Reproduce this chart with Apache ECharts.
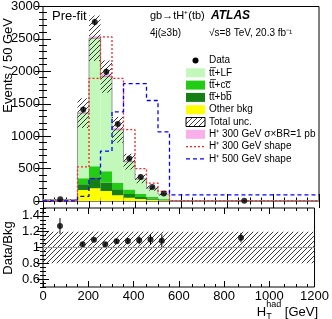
<!DOCTYPE html>
<html><head><meta charset="utf-8">
<script src="https://cdn.jsdelivr.net/npm/echarts@6/dist/echarts.min.js"></script>
<style>html,body{margin:0;padding:0;background:#fff;}#c{width:332px;height:319px;}</style>
</head><body><div id="c"></div>
<script>
// ---- data (Events / 50 GeV) ----
const binEdges = [0, 150, 200, 250, 300, 350, 400, 450, 500, 550, 1200];
const dataVals = [28, 1410, 2760, 1995, 1186, 655, 371, 217, 114, 4.5];
const otherBkg = [3, 170, 195, 155, 88, 52, 30, 18, 10, 0.8];
const ttbb = [2, 90, 170, 130, 92, 56, 32, 18, 10, 0.6];
const ttcc = [3, 90, 171, 175, 100, 68, 46, 26, 15, 0.8];
const ttLF = [14, 1005, 1974, 1458, 818, 430, 232, 135, 70, 1.8];
const hplus300 = [0, 15, 30, 40, 30, 15, 8, 4, 2, 0];
const totalUncRel = [0.2, 0.17, 0.14, 0.13, 0.18, 0.2, 0.2, 0.2, 0.2, 0.2];
const hplus300Shape = [0, 525, 1890, 2530, 1890, 1100, 500, 275, 150, 3];
const hplus500Shape = [0, 72, 345, 770, 1376, 1810, 1810, 1550, 1067, 95];
const ratioErr = [0.10, 0.03, 0.02, 0.025, 0.03, 0.04, 0.05, 0.07, 0.08, 0.06];
const ratioUncUp = [1.2, 1.2, 1.2, 1.2, 1.2, 1.2, 1.2, 1.2, 1.2, 1.2];
const ratioUncDn = [0.8, 0.8, 0.8, 0.8, 0.8, 0.8, 0.8, 0.8, 0.8, 0.8];
const xTickLabels = [0, 200, 400, 600, 800, 1000, 1200];
const yTickLabels = [0, 500, 1000, 1500, 2000, 2500, 3000];
const ratioTickLabels = [0.6, 0.8, 1, 1.2, 1.4];

const FONT = '"Liberation Sans", Arial, sans-serif';
const chart = echarts.init(document.getElementById('c'), null, {renderer: 'canvas', width: 332, height: 319});

function makeHatch(sp, color, lw) {
  const c = document.createElement('canvas'); c.width = sp; c.height = sp;
  const g = c.getContext('2d'); g.strokeStyle = color; g.lineWidth = lw;
  g.beginPath();
  g.moveTo(0, sp); g.lineTo(sp, 0);
  g.moveTo(-1, 1); g.lineTo(1, -1);
  g.moveTo(sp - 1, sp + 1); g.lineTo(sp + 1, sp - 1);
  g.stroke();
  return c;
}
const hatchImg = makeHatch(5, '#222', 0.9);
const hatchFill = {image: hatchImg, repeat: 'repeat'};

const nb = binEdges.length - 1;
const cum1 = [], cum2 = [], cum3 = [], bkg = [], cumSig = [], ratio = [];
for (let i = 0; i < nb; i++) {
  cum1.push(otherBkg[i]);
  cum2.push(cum1[i] + ttbb[i]);
  cum3.push(cum2[i] + ttcc[i]);
  bkg.push(cum3[i] + ttLF[i]);
  cumSig.push(bkg[i] + hplus300[i]);
  ratio.push(dataVals[i] / bkg[i]);
}
const centers = binEdges.slice(0, nb).map((e, i) => (e + binEdges[i + 1]) / 2);

function rectData(lo, hi) {
  return lo.map((v, i) => [binEdges[i], binEdges[i + 1], v, hi[i]]);
}
function rectSeries(lo, hi, fill, xi, yi, z) {
  return {
    type: 'custom', xAxisIndex: xi, yAxisIndex: yi, z: z, silent: true, clip: true,
    data: rectData(lo, hi),
    encode: {x: [0, 1], y: [2, 3]},
    renderItem: function (params, api) {
      const a = api.coord([api.value(0), api.value(2)]);
      const b = api.coord([api.value(1), api.value(3)]);
      return {type: 'rect', shape: {x: a[0], y: Math.min(a[1], b[1]), width: b[0] - a[0], height: Math.abs(a[1] - b[1])},
        style: {fill: fill, stroke: null}};
    }
  };
}
function stepData(vals) {
  const d = vals.map((v, i) => [binEdges[i], v]);
  d.push([binEdges[nb], vals[nb - 1]]);
  return d;
}
function stepSeries(vals, color, type, width, z) {
  return {type: 'line', xAxisIndex: 0, yAxisIndex: 0, step: 'end', data: stepData(vals), symbol: 'none', silent: true,
    z: z, animation: false, clip: true, lineStyle: {color: color, type: type, width: width}};
}
function errSeries(x, lo, hi, xi, yi) {
  return {
    type: 'custom', xAxisIndex: xi, yAxisIndex: yi, z: 9, silent: true,
    data: x.map((v, i) => [v, lo[i], hi[i]]),
    encode: {x: 0, y: [1, 2]},
    renderItem: function (params, api) {
      const a = api.coord([api.value(0), api.value(1)]);
      const b = api.coord([api.value(0), api.value(2)]);
      return {type: 'line', shape: {x1: a[0], y1: a[1], x2: b[0], y2: b[1]}, style: {stroke: '#000', lineWidth: 1}};
    }
  };
}

// tick positions
const xMinor = [], yMinor = [], rMinor = [];
for (let v = 0; v <= 1200; v += 50) if (v % 200 !== 0) xMinor.push(v);
for (let v = 0; v <= 3000; v += 100) if (v % 500 !== 0) yMinor.push(v);
for (let k = 10; k <= 30; k++) { const v = +(k * 0.05).toFixed(2); if (!ratioTickLabels.includes(v)) rMinor.push(v); }

const labelStyle = {color: '#000', fontFamily: FONT, fontSize: 13};
function axis(grid, pos, min, max, ticks, len, labels, margin) {
  return {
    type: 'value', gridIndex: grid, position: pos, min: min, max: max,
    axisLine: {show: false}, splitLine: {show: false},
    axisTick: {show: true, inside: true, length: len, customValues: ticks, lineStyle: {color: '#000', width: 1}},
    axisLabel: labels ? Object.assign({show: true, customValues: ticks, margin: margin, formatter: v => String(v)}, labelStyle) : {show: false}
  };
}

const gMain = {left: 43, top: 6, width: 276, height: 195};
const gRatio = {left: 43, top: 208, width: 276, height: 79};
const gridBase = {show: true, borderColor: '#000', borderWidth: 1, backgroundColor: 'transparent', containLabel: false};

const legendRows = [60.5, 72.8, 85.1, 97.4, 109.7, 122, 134.3, 146.6, 158.9];
const LX = 186, LW = 19, LH = 9, TX = 209;
const legFont = '10px ' + FONT;
function legText(y, t) { return {type: 'text', x: TX, y: y, z: 100, style: {text: t, font: legFont, fill: '#000', align: 'left', verticalAlign: 'middle', textAlign: 'left', textVerticalAlign: 'middle'}}; }
function legBox(y, fill, stroke) { return {type: 'rect', z: 100, shape: {x: LX, y: y - LH / 2, width: LW, height: LH}, style: {fill: fill, stroke: stroke || null, lineWidth: 1}}; }

const mctx = document.createElement('canvas').getContext('2d');
function tw(font, t) { mctx.font = font; return mctx.measureText(t).width; }
const f13 = '13px ' + FONT, f9 = '9px ' + FONT;
const gevW = tw(f13, ' [GeV]'), hadW = tw(f9, 'had'), hW = tw(f13, 'H');
const xTitleRight = 318;
const hadX = xTitleRight - gevW - hadW;
const hX = hadX - hW;

function txt(x, y, t, font, align, vAlign, extra) {
  return Object.assign({type: 'text', x: x, y: y, z: 100,
    style: {text: t, font: font, fill: '#000', align: align, verticalAlign: vAlign, textAlign: align, textVerticalAlign: vAlign}}, extra || {});
}

const option = {
  animation: false,
  backgroundColor: '#fff',
  grid: [Object.assign({}, gridBase, gMain), Object.assign({}, gMain, {show: false}),
         Object.assign({}, gridBase, gRatio), Object.assign({}, gRatio, {show: false})],
  xAxis: [
    axis(0, 'bottom', 0, 1200, xTickLabels, 7, false),
    axis(0, 'top', 0, 1200, xTickLabels, 7, false),
    axis(1, 'bottom', 0, 1200, xMinor, 3.5, false),
    axis(1, 'top', 0, 1200, xMinor, 3.5, false),
    axis(2, 'bottom', 0, 1200, xTickLabels, 6, true, 3),
    axis(2, 'top', 0, 1200, xTickLabels, 6, false),
    axis(3, 'bottom', 0, 1200, xMinor, 3, false),
    axis(3, 'top', 0, 1200, xMinor, 3, false)
  ],
  yAxis: [
    axis(0, 'left', 0, 3000, yTickLabels, 8, true, 3),
    axis(0, 'right', 0, 3000, yTickLabels, 8, false),
    axis(1, 'left', 0, 3000, yMinor, 4, false),
    axis(1, 'right', 0, 3000, yMinor, 4, false),
    axis(2, 'left', 0.5, 1.5, ratioTickLabels, 6, true, 3),
    axis(2, 'right', 0.5, 1.5, ratioTickLabels, 6, false),
    axis(3, 'left', 0.5, 1.5, rMinor, 3, false),
    axis(3, 'right', 0.5, 1.5, rMinor, 3, false)
  ],
  series: [
    rectSeries(otherBkg.map(() => 0), cum1, '#ffff00', 0, 0, 1),
    rectSeries(cum1, cum2, '#157f15', 0, 0, 1),
    rectSeries(cum2, cum3, '#22cc14', 0, 0, 1),
    rectSeries(cum3, bkg, '#c3f8bb', 0, 0, 1),
    rectSeries(bkg, cumSig, '#f9b0ea', 0, 0, 1),
    stepSeries(bkg, '#999', 'solid', 1, 2),
    rectSeries(bkg.map((b, i) => b * (1 - totalUncRel[i])), bkg.map((b, i) => b * (1 + totalUncRel[i])), hatchFill, 0, 0, 3),
    stepSeries(hplus300Shape, '#ff2020', [2, 2], 1.3, 4),
    stepSeries(hplus500Shape, '#0000ff', [4, 3], 1.3, 4),
    errSeries(centers, dataVals.map((d, i) => d - ratioErr[i] * bkg[i]), dataVals.map((d, i) => d + ratioErr[i] * bkg[i]), 0, 0),
    {type: 'scatter', xAxisIndex: 0, yAxisIndex: 0, z: 10, silent: true, symbol: 'circle', symbolSize: 6,
      itemStyle: {color: '#000'}, data: centers.map((c, i) => [c, dataVals[i]])},
    // ratio panel
    rectSeries(ratioUncDn, ratioUncUp, hatchFill, 4, 4, 3),
    {type: 'line', xAxisIndex: 4, yAxisIndex: 4, z: 4, silent: true, symbol: 'none', data: [[0, 1], [1200, 1]],
      lineStyle: {color: '#999', width: 1}},
    errSeries(centers, ratio.map((r, i) => r - ratioErr[i]), ratio.map((r, i) => r + ratioErr[i]), 4, 4),
    {type: 'scatter', xAxisIndex: 4, yAxisIndex: 4, z: 10, silent: true, symbol: 'circle', symbolSize: 6,
      itemStyle: {color: '#000'}, data: centers.map((c, i) => [c, ratio[i]])}
  ],
  graphic: [
    txt(52, 16, 'Pre-fit', f13, 'left', 'middle'),
    txt(150, 16, 'gb\u2192tH\u207A(tb)', '11px ' + FONT, 'left', 'middle'),
    txt(211, 16, 'ATLAS', 'italic bold 12px ' + FONT, 'left', 'middle'),
    txt(150, 33, '4j(\u22653b)', '10px ' + FONT, 'left', 'middle'),
    txt(209, 33, '\u221As=8 TeV, 20.3 fb\u207B\u00B9', '10px ' + FONT, 'left', 'middle'),
    // legend
    {type: 'circle', z: 100, shape: {cx: LX + LW / 2, cy: legendRows[0], r: 3}, style: {fill: '#000'}},
    legText(legendRows[0], 'Data'),
    legBox(legendRows[1], '#c3f8bb'), legText(legendRows[1], 'tt\u0305+LF'),
    legBox(legendRows[2], '#22cc14'), legText(legendRows[2], 'tt\u0305+cc\u0305'),
    legBox(legendRows[3], '#157f15'), legText(legendRows[3], 'tt\u0305+bb\u0305'),
    legBox(legendRows[4], '#ffff00'), legText(legendRows[4], 'Other bkg'),
    legBox(legendRows[5], hatchFill, '#000'), legText(legendRows[5], 'Total unc.'),
    legBox(legendRows[6], '#f9b0ea'), legText(legendRows[6], 'H\u207A 300 GeV \u03C3\u00D7BR=1 pb'),
    {type: 'line', z: 100, shape: {x1: LX, y1: legendRows[7], x2: LX + LW, y2: legendRows[7]}, style: {stroke: '#ff2020', lineWidth: 1.3, lineDash: [2, 2]}},
    legText(legendRows[7], 'H\u207A 300 GeV shape'),
    {type: 'line', z: 100, shape: {x1: LX, y1: legendRows[8], x2: LX + LW, y2: legendRows[8]}, style: {stroke: '#0000ff', lineWidth: 1.3, lineDash: [4, 3]}},
    legText(legendRows[8], 'H\u207A 500 GeV shape'),
    // axis titles
    txt(8, 18, 'Events / 50 GeV', f13, 'right', 'middle', {rotation: Math.PI / 2}),
    txt(8, 248, 'Data/Bkg', f13, 'center', 'middle', {rotation: Math.PI / 2}),
    txt(hX, 312, 'H', f13, 'left', 'middle'),
    txt(hadX, 305, 'had', f9, 'left', 'middle'),
    txt(hadX, 316.5, 'T', f9, 'left', 'middle'),
    txt(xTitleRight, 312, ' [GeV]', f13, 'right', 'middle')
  ]
};
chart.setOption(option);
</script>
</body></html>
